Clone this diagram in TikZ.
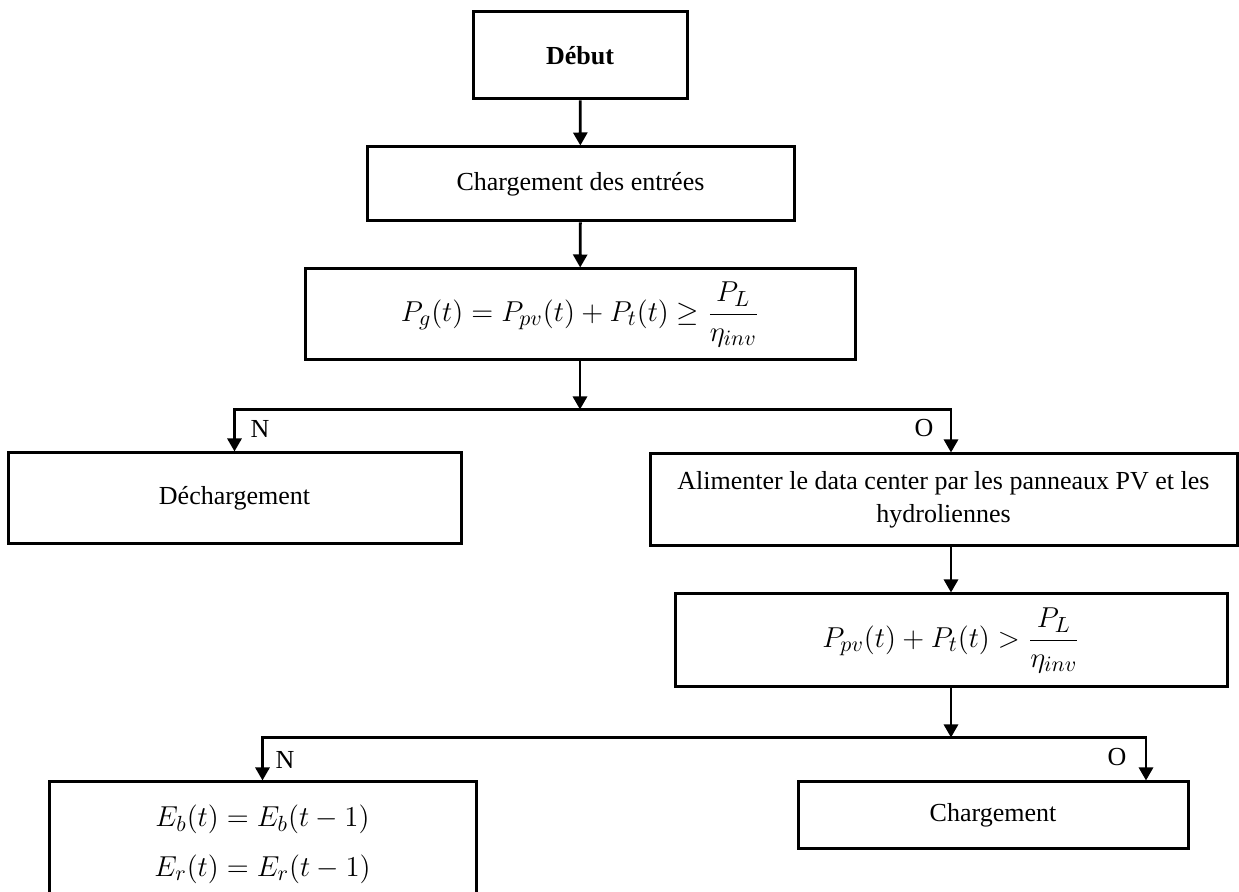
\documentclass[tikz,border=0pt]{standalone}
\usepackage{amsmath}
\usepackage{fontspec}
\setmainfont{Liberation Serif}
\usetikzlibrary{arrows.meta}

\tikzset{
  boite/.style={draw, line width=1.5pt, inner sep=0pt, align=center,
    font=\fontsize{13}{16.5}\selectfont},
  formule/.style={boite, font=\fontsize{15}{18}\selectfont},
  fleche/.style={line width=1.4pt, -{Triangle[length=6.5pt,width=7pt]}},
  etiq/.style={inner sep=0pt, font=\fontsize{13}{16}\selectfont},
}

\begin{document}
\begin{tikzpicture}[x=0.5pt,y=-0.5pt]
% ---- 画布：照原图尺寸 ----
\clip (0,0) rectangle (1239,892);
% ---- 主干方框 ----
\node[boite, minimum width=107pt, minimum height=43.5pt] (debut) at (580,55.5) {\bfseries Début};
\node[boite, minimum width=213.5pt, minimum height=37pt] (entrees) at (580.5,184) {Chargement des entrées};
\node[formule, minimum width=275pt, minimum height=45.5pt] (cond1) at (580,314.5)
  {$P_g(t)=P_{pv}(t)+P_t(t)\geq\dfrac{P_L}{\eta_{inv}}$};
% ---- 第一次分支 ----
\node[boite, minimum width=226.5pt, minimum height=45.5pt] (decharge) at (234.5,498.5) {Déchargement};
\node[boite, minimum width=293.5pt, minimum height=46pt] (alim) at (943.5,500)
  {Alimenter le data center par les panneaux PV et les\\hydroliennes};
\node[formule, minimum width=276pt, minimum height=46.5pt] (cond2) at (951,640.5)
  {$P_{pv}(t)+P_t(t)>\dfrac{P_L}{\eta_{inv}}$};
% ---- 第二次分支 ----
\node[formule, minimum width=213.5pt, minimum height=62pt] (egal) at (262.5,844)
  {$E_b(t)=E_b(t-1)$\\[7pt]$E_r(t)=E_r(t-1)$};
\node[boite, minimum width=195pt, minimum height=33.5pt] (charge) at (993,815.5) {Chargement};
% ---- N / O 标记 ----
\node[etiq] (n1) at (260,429) {N};
\node[etiq] (o1) at (924,428) {O};
\node[etiq] (n2) at (285,760) {N};
\node[etiq] (o2) at (1117,757) {O};
% ---- 连线 ----
\coordinate (j1) at ([yshift=-24pt]cond1.south);
\coordinate (j2) at ([yshift=-24.5pt]cond2.south);
\coordinate (c2) at ([xshift=76.5pt]charge.north);
\draw[fleche] (debut) -- (entrees);
\draw[fleche] (entrees) -- (cond1);
\draw[fleche] (cond1) -- (j1);
\draw[fleche] (j1) -| (decharge.north);
\draw[fleche] (j1) -| (cond2.north |- alim.north);
\draw[fleche] (cond2.north |- alim.south) -- (cond2.north);
\draw[fleche] (cond2) -- (j2);
\draw[fleche] (j2) -| (egal.north);
\draw[fleche] (j2) -| (c2);
\end{tikzpicture}
\end{document}
